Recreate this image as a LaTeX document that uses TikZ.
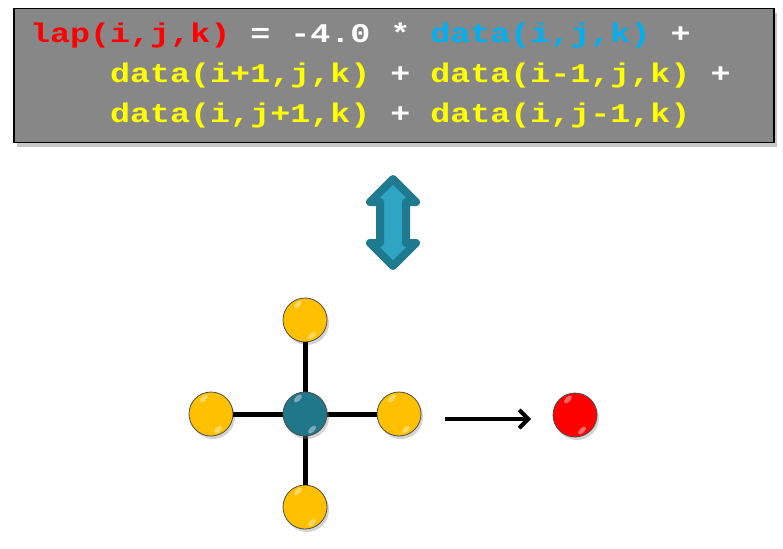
\documentclass[tikz,border=0pt]{standalone}
\usepackage{fontspec}
\newfontfamily\codefont[FakeStretch=1.235]{Liberation Mono}
\usetikzlibrary{shadows,arrows.meta,calc}
\definecolor{boxgray}{HTML}{878787}
\definecolor{codered}{HTML}{FF0000}
\definecolor{codecyan}{HTML}{00B0F0}
\definecolor{codeyellow}{HTML}{FFFF00}
\definecolor{ballyellow}{HTML}{FFC000}
\definecolor{ballteal}{HTML}{21778A}
\definecolor{arrowdark}{HTML}{1F7A8F}
\definecolor{arrowlight}{HTML}{2FA5C4}
\tikzset{
  codeline/.style={anchor=base west, inner sep=0pt, font=\codefont\bfseries\fontsize{27}{30}\selectfont},
  ball/.style={circle, minimum size=44pt, inner sep=0pt, draw=black!70, line width=0.8pt,
    drop shadow={shadow xshift=2pt, shadow yshift=-3pt, opacity=0.35}},
  yball/.style={ball, fill=ballyellow},
  bond/.style={line width=5pt, black},
  glint/.style={fill=white, opacity=0.4, draw=none},
}
\begin{document}
\begin{tikzpicture}[x=1pt,y=-1pt]
\useasboundingbox (0,0) rectangle (783,548);
% code box
\node[draw=black, line width=1.5pt, fill=boxgray, minimum width=760pt, minimum height=134pt,
  anchor=north west, inner sep=0pt,
  drop shadow={shadow xshift=3pt, shadow yshift=-4pt, opacity=0.45}] (box) at (13,8) {};
\node[codeline] (l1) at (30,43) {\textcolor{codered}{lap(i,j,k)} \textcolor{white}{= -4.0 *} \textcolor{codecyan}{data(i,j,k)} \textcolor{white}{+}};
\node[codeline] (l2) at (110,83) {\textcolor{codeyellow}{data(i+1,j,k)} \textcolor{white}{+} \textcolor{codeyellow}{data(i-1,j,k)} \textcolor{white}{+}};
\node[codeline] (l3) at (110,123) {\textcolor{codeyellow}{data(i,j+1,k)} \textcolor{white}{+} \textcolor{codeyellow}{data(i,j-1,k)}};
% double arrow
\draw[draw=arrowdark, fill=arrowlight, line width=8pt, line join=round]
  (393,179) -- (416,202) -- (406,202) -- (406,243) -- (416,243) -- (393,266)
  -- (370,243) -- (380,243) -- (380,202) -- (370,202) -- cycle;
% stencil
\coordinate (c) at (305,414);
\node[yball] (top) at (305,320) {};
\node[yball] (left) at (211,414) {};
\node[yball] (right) at (399,414) {};
\node[yball] (bottom) at (305,507) {};
\draw[bond] (top) -- (c) (bottom) -- (c) (left) -- (c) (right) -- (c);
\node[ball, fill=ballteal] (center) at (c) {};
\node[ball, fill=codered] (res) at (575,415) {};
\foreach \b in {top,left,right,bottom,center,res}{
  \fill[glint, rotate around={-45:(\b.center)}] ($(\b.center)+(-16,-6)$) ellipse (2.5pt and 5pt);
  \fill[glint, rotate around={-45:(\b.center)}] ($(\b.center)+(16,6)$) ellipse (2.5pt and 5pt);
}
\coordinate (astart) at (445,419);
\coordinate (aend) at (531,419);
\draw[line width=4pt, -{Straight Barb[length=9pt,width=18pt]}] (astart) -- (aend);
\end{tikzpicture}
\end{document}
